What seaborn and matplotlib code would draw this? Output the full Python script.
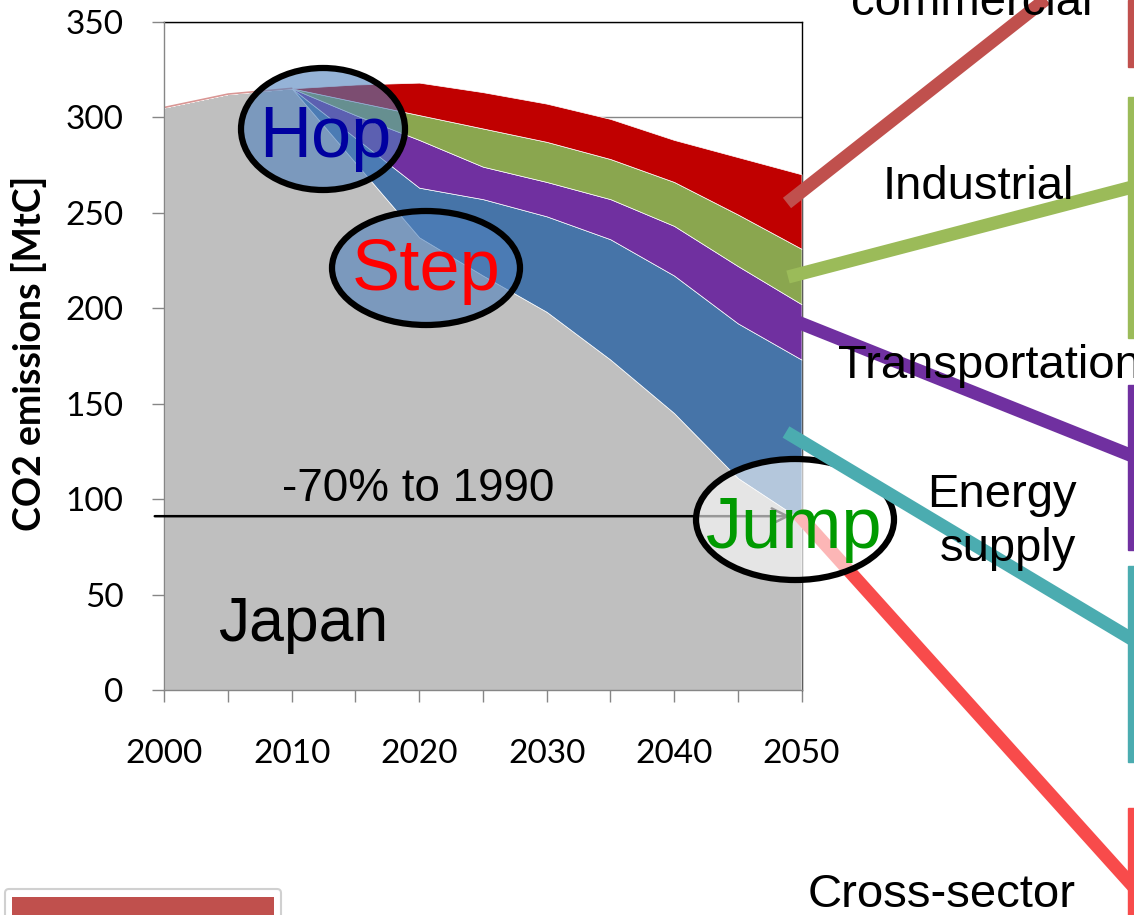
import numpy as np
import pandas as pd
import matplotlib
matplotlib.use('Agg')
import matplotlib.pyplot as plt
import seaborn as sns
from matplotlib.patches import Ellipse, Rectangle, FancyBboxPatch

# CO2 emissions of Japan [MtC], stacked by reduction sector
years = [2000, 2005, 2010, 2015, 2020, 2025, 2030, 2035, 2040, 2045, 2050]
remaining = [305, 312, 315, 276, 237, 217, 198, 173, 145, 111, 89]
energy_supply = [0, 0, 0, 13, 26, 40, 50, 63, 72, 81, 84]
transportation = [0, 0, 0, 12, 25, 17, 18, 21, 26, 30, 29]
industrial = [0, 0, 0, 7, 13, 20, 21, 21, 23, 27, 29]
commercial = [0, 0, 0, 9, 17, 19, 20, 21, 22, 30, 39]
target_1990 = 91  # -70% to 1990

y_ticks = [0, 50, 100, 150, 200, 250, 300, 350]
x_ticks = [2000, 2005, 2010, 2015, 2020, 2025, 2030, 2035, 2040, 2045, 2050]
x_labels = ['2000', '', '2010', '', '2020', '', '2030', '', '2040', '', '2050']

area_colors = ['#BFBFBF', '#4674A8', '#7030A0', '#8AA64F', '#C00000']

sns.set_theme(style='white')
plt.rcParams['font.family'] = ['Lato', 'DejaVu Sans']
plt.rcParams['text.color'] = 'black'
plt.rcParams['axes.labelcolor'] = 'black'

df = pd.DataFrame({'year': years, 'remaining': remaining, 'energy': energy_supply,
                   'transport': transportation, 'industrial': industrial,
                   'commercial': commercial})
df['total'] = df[['remaining', 'energy', 'transport', 'industrial', 'commercial']].sum(axis=1)

fig = plt.figure(figsize=(11.34, 9.15), dpi=100)
ax = fig.add_axes([0.1449, 0.2459, 0.5619, 0.7306])

ax.stackplot(df['year'], df['remaining'], df['energy'], df['transport'],
             df['industrial'], df['commercial'], colors=area_colors,
             edgecolor='white', linewidth=0.5)
#rosy top edge before the reductions start
sns.lineplot(x=df['year'][:3], y=df['total'][:3], ax=ax, color='#D99694', lw=1.2)

ax.set_xlim(2000, 2050)
ax.set_ylim(0, 350)
ax.set_xticks(x_ticks)
ax.set_xticklabels(x_labels)
ax.set_yticks(y_ticks)
ax.set_axisbelow(True)
ax.yaxis.grid(True, color='#868686', lw=1)
ax.xaxis.grid(False)
ax.tick_params(axis='both', colors='#868686', labelcolor='black', labelsize=24,
               length=8.5, width=1, direction='out')
ax.tick_params(axis='y', pad=21, left=True)
ax.tick_params(axis='x', pad=27, bottom=True)
for s in ['left', 'bottom']:
    ax.spines[s].set_color('#868686')
    ax.spines[s].set_linewidth(1)
for s in ['top', 'right']:
    ax.spines[s].set_color('black')
    ax.spines[s].set_linewidth(1)
    ax.spines[s].set_zorder(0.6)
ax.set_ylabel('CO2 emissions [MtC]', fontsize=27, fontweight='bold', color='black')
ax.yaxis.set_label_coords(-0.184, 0.504)
ax.set_xlabel('')

# -70% to 1990 line
ax.annotate('', xy=(2049.1, target_1990), xytext=(1999.25, target_1990),
            xycoords='data', annotation_clip=False,
            arrowprops=dict(arrowstyle='->', color='black', lw=1.8,
                            mutation_scale=28, shrinkA=0, shrinkB=0))

# overlay in pixel coordinates for annotations
ov = fig.add_axes([0, 0, 1, 1], zorder=10)
ov.set_xlim(0, 1134)
ov.set_ylim(915, 0)
ov.axis('off')
ov.patch.set_alpha(0)

txt = dict(family=['Liberation Sans', 'DejaVu Sans'], color='black')

ov.text(418, 501, '-70% to 1990', fontsize=33, ha='center', va='baseline', **txt)
ov.text(303, 641, 'Japan', fontsize=45, ha='center', va='baseline', **txt)

# cross-sector connector goes under the Jump ellipse
ov.plot([797, 1140], [513, 894], color='#F84B4B', lw=9.5, solid_capstyle='butt', zorder=2)

ov.add_patch(Ellipse((323, 129), 164, 122, facecolor=(0.31, 0.506, 0.741, 0.6),
                     edgecolor='black', lw=4.5, zorder=3))
ov.add_patch(Ellipse((426, 268), 188, 114, facecolor=(0.31, 0.506, 0.741, 0.6),
                     edgecolor='black', lw=4.5, zorder=3))
ov.add_patch(Ellipse((795, 519.5), 198, 121, facecolor=(1, 1, 1, 0.6),
                     edgecolor='black', lw=4.5, zorder=3))

big = dict(family=['Liberation Sans', 'DejaVu Sans'])
ov.text(325, 157, 'Hop', fontsize=52, color='#0000A0', ha='center', va='baseline', zorder=4, **big)
ov.text(426, 290, 'Step', fontsize=52, color='#FF0000', ha='center', va='baseline', zorder=4, **big)
ov.text(794, 548, 'Jump', fontsize=52, color='#009A00', ha='center', va='baseline', zorder=4, **big)

# sector connectors
ov.plot([787, 1140], [203, -75], color='#C0504D', lw=9.5, solid_capstyle='butt', zorder=5)
ov.plot([788, 1140], [277, 185], color='#9BBB59', lw=9.5, solid_capstyle='butt', zorder=5)
ov.plot([790, 1140], [319, 459], color='#7030A0', lw=9.5, solid_capstyle='butt', zorder=5)
ov.plot([786, 1140], [432, 644], color='#4BACB0', lw=9.5, solid_capstyle='butt', zorder=5)

# coloured bars at the right edge
bars = [(0, 67, '#C0504D'), (97, 338, '#9BBB59'), (385, 550, '#7030A0'),
        (566, 762, '#4BACB0'), (808, 930, '#F84B4B')]
for y0, y1, c in bars:
    ov.add_patch(Rectangle((1128, y0), 20, y1 - y0, color=c, zorder=5, clip_on=False))

ov.text(972, 15, 'commercial', fontsize=34, ha='center', va='baseline', zorder=6, **txt)
ov.text(978, 199, 'Industrial', fontsize=34, ha='center', va='baseline', zorder=6, **txt)
ov.text(838, 378, 'Transportation', fontsize=34, ha='left', va='baseline', zorder=6, **txt)
ov.text(1002, 507, 'Energy', fontsize=34, ha='center', va='baseline', zorder=6, **txt)
ov.text(1008, 561, 'supply', fontsize=34, ha='center', va='baseline', zorder=6, **txt)
ov.text(942, 907, 'Cross-sector', fontsize=34, ha='center', va='baseline', zorder=6, **txt)

# clipped box at bottom left
ov.add_patch(FancyBboxPatch((5, 889), 276, 40, boxstyle='round,pad=0,rounding_size=4',
                            facecolor='white', edgecolor='#D0D0D0', lw=1.5, zorder=5))
ov.add_patch(Rectangle((12, 897), 262, 30, facecolor='#C0504D', edgecolor='none', zorder=6))

fig.savefig('out.png', dpi=100)
